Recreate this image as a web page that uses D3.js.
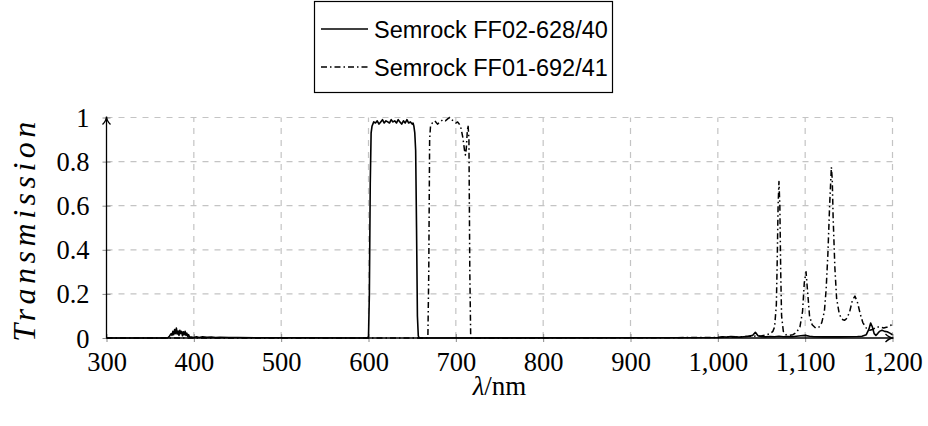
<!DOCTYPE html>
<html><head><meta charset="utf-8">
<script src="https://cdn.jsdelivr.net/npm/d3@7"></script>
<style>
body{margin:0;background:#fff;}
svg{display:block;}
</style></head>
<body><svg id="c" width="928" height="426"></svg>
<script>
const seriesNames = ["Semrock FF02-628/40", "Semrock FF01-692/41"];
const xTicks = [300,400,500,600,700,800,900,1000,1100,1200];
const yTicks = [0,0.2,0.4,0.6,0.8,1];

// Filter 1 (solid)
const wl1 = [300,370,372,374,375,376,377,378,379,380,381,382,383,384,385,386,387,388,389,390,391,392,393,394,395,397,400,403,406,410,415,420,425,430,440,450,470,500,520,598,600,601,602,603,604,606,608,610,612,614,616,618,620,622,624,626,628,630,632,634,636,638,640,642,644,646,648,650,651,652,653,654,655,656,657,658,1000,1005,1010,1015,1020,1025,1030,1035,1040,1043,1046,1050,1055,1060,1065,1070,1075,1080,1085,1090,1095,1100,1105,1110,1120,1130,1140,1150,1160,1165,1170,1173,1175,1177,1179,1181,1183,1185,1188,1191,1194,1197,1200];
const tr1 = [0,0,0.008,0.02,0.012,0.03,0.015,0.038,0.02,0.045,0.018,0.032,0.012,0.035,0.02,0.03,0.01,0.028,0.015,0.03,0.012,0.022,0.008,0.015,0.005,0.004,0.002,0.006,0.002,0.005,0.003,0.004,0.002,0.003,0.002,0.002,0.001,0.001,0.001,0,0.005,0.2,0.7,0.93,0.96,0.98,0.975,0.985,0.97,0.98,0.99,0.975,0.985,0.98,0.975,0.99,0.98,0.985,0.975,0.99,0.98,0.97,0.985,0.975,0.99,0.975,0.98,0.97,0.975,0.96,0.93,0.85,0.5,0.1,0.01,0,0.002,0.006,0.004,0.007,0.005,0.004,0.006,0.008,0.012,0.026,0.01,0.006,0.005,0.007,0.006,0.008,0.006,0.007,0.006,0.008,0.01,0.012,0.008,0.006,0.005,0.006,0.005,0.006,0.007,0.008,0.015,0.04,0.068,0.05,0.02,0.012,0.02,0.03,0.035,0.03,0.028,0.022,0.015];

// Filter 2 (dash-dot)
const wl2 = [300,665,668,669,670,671,673,676,679,682,685,688,691,693,695,697,700,702,704,706,708,709,710,711,712,713,714,715,716,717,718,1000,1010,1020,1030,1040,1050,1055,1060,1063,1065,1067,1068,1069,1070,1071,1072,1073,1075,1078,1082,1086,1090,1094,1097,1099,1101,1103,1105,1108,1112,1116,1119,1122,1124,1126,1128,1130,1131,1132,1134,1136,1139,1142,1145,1148,1151,1154,1157,1160,1163,1166,1170,1174,1178,1182,1186,1190,1194,1198,1200];
const tr2 = [0,0,0.002,0.3,0.9,0.96,0.975,0.985,0.97,0.98,0.99,0.985,0.995,1.0,0.99,0.985,0.975,0.98,0.97,0.95,0.91,0.88,0.85,0.83,0.86,0.93,0.965,0.9,0.3,0.01,0,0.002,0.004,0.005,0.006,0.008,0.01,0.013,0.02,0.03,0.05,0.15,0.35,0.6,0.71,0.6,0.3,0.1,0.03,0.015,0.012,0.015,0.025,0.05,0.12,0.25,0.30,0.2,0.1,0.06,0.045,0.05,0.07,0.12,0.22,0.38,0.6,0.775,0.72,0.55,0.32,0.18,0.11,0.085,0.08,0.09,0.12,0.17,0.19,0.16,0.11,0.07,0.045,0.035,0.04,0.05,0.05,0.045,0.05,0.058,0.06];

const svg = d3.select("#c");
const X0 = 106.5, X1 = 892.5, Y0 = 338, Y1 = 117.5;
const x = d3.scaleLinear().domain([300,1200]).range([X0,X1]);
const y = d3.scaleLinear().domain([0,1]).range([Y0,Y1]);
const serif = "'Liberation Serif','DejaVu Serif',serif";
const sans = "'Liberation Sans',Arial,sans-serif";

// grid
const grid = svg.append("g").attr("stroke","#c4c4c4").attr("stroke-width",1.2).attr("stroke-dasharray","6,6");
xTicks.filter(t=>t>300).forEach(t=>grid.append("line").attr("x1",x(t)).attr("x2",x(t)).attr("y1",Y0).attr("y2",Y1));
yTicks.filter(t=>t>0).forEach(t=>grid.append("line").attr("x1",X0).attr("x2",X1).attr("y1",y(t)).attr("y2",y(t)));

// axes via d3
const xa = svg.append("g").attr("transform",`translate(0,${Y0})`)
  .call(d3.axisBottom(x).tickValues(xTicks).tickFormat(d3.format(",")).tickSize(4).tickPadding(7));
xa.select(".domain").remove();
xa.selectAll(".tick line").attr("y1",-4).attr("y2",4).attr("stroke","#8a8a8a");
xa.selectAll(".tick text").attr("font-family",serif).attr("font-size",26.5).attr("fill","#000").attr("dy","0.82em");

const ya = svg.append("g").attr("transform",`translate(${X0},0)`)
  .call(d3.axisLeft(y).tickValues(yTicks).tickFormat(d=>d3.format("")(+d.toFixed(1))).tickSize(4).tickPadding(13));
ya.select(".domain").remove();
ya.selectAll(".tick line").attr("x1",-4).attr("x2",4).attr("stroke","#8a8a8a");
ya.selectAll(".tick text").attr("font-family",serif).attr("font-size",26.5).attr("fill","#000").attr("dy","0.34em");

// data lines
const line = d3.line().x(d=>x(d[0])).y(d=>y(d[1]));
const d1 = wl1.map((w,i)=>[w,tr1[i]]);
const d2 = wl2.map((w,i)=>[w,tr2[i]]);
svg.append("path").datum(d2).attr("d",line).attr("fill","none").attr("stroke","#000").attr("stroke-width",1.5)
  .attr("stroke-dasharray","6,3,1.5,3").attr("stroke-linejoin","round");
svg.append("path").datum(d1).attr("d",line).attr("fill","none").attr("stroke","#000").attr("stroke-width",1.6).attr("stroke-linejoin","round");

// axis lines with arrows
svg.append("line").attr("x1",X0).attr("x2",X1).attr("y1",Y0).attr("y2",Y0).attr("stroke","#000").attr("stroke-width",1.3);
svg.append("line").attr("x1",X0).attr("x2",X0).attr("y1",Y0).attr("y2",Y1).attr("stroke","#000").attr("stroke-width",1.3);
svg.append("path").attr("d",`M${X1-7},${Y0-4} Q${X1-3},${Y0} ${X1+1},${Y0} Q${X1-3},${Y0} ${X1-7},${Y0+4}`).attr("fill","none").attr("stroke","#000").attr("stroke-width",1.3);
svg.append("path").attr("d",`M${X0-4},${Y1+7} Q${X0},${Y1+3} ${X0},${Y1-1} Q${X0},${Y1+3} ${X0+4},${Y1+7}`).attr("fill","none").attr("stroke","#000").attr("stroke-width",1.3);

// axis labels
svg.append("text").attr("transform",`translate(35,${227 + 2.5}) rotate(-90)`).attr("text-anchor","middle")
  .attr("font-family",serif).attr("font-style","italic").attr("font-size",32).attr("letter-spacing",4.5).text("Transmission");
const xl = svg.append("text").attr("x",(X0+X1)/2).attr("y",395).attr("text-anchor","middle").attr("font-family",serif).attr("font-size",27);
xl.append("tspan").attr("font-style","italic").text("λ");
xl.append("tspan").text("/nm");

// legend
const lg = svg.append("g");
lg.append("rect").attr("x",314.5).attr("y",1.5).attr("width",298).attr("height",91).attr("fill","#fff").attr("stroke","#000").attr("stroke-width",1.2);
const dashes = [null,"6,3,1.5,3"];
seriesNames.forEach((n,i)=>{
  const yy = 29 + i*38;
  const l = lg.append("line").attr("x1",321).attr("x2",368).attr("y1",yy).attr("y2",yy).attr("stroke","#000").attr("stroke-width",1.5);
  if (dashes[i]) l.attr("stroke-dasharray",dashes[i]);
  lg.append("text").attr("x",374).attr("y",yy+8.5).attr("font-family",sans).attr("font-size",23.5).text(n);
});
</script></body></html>
